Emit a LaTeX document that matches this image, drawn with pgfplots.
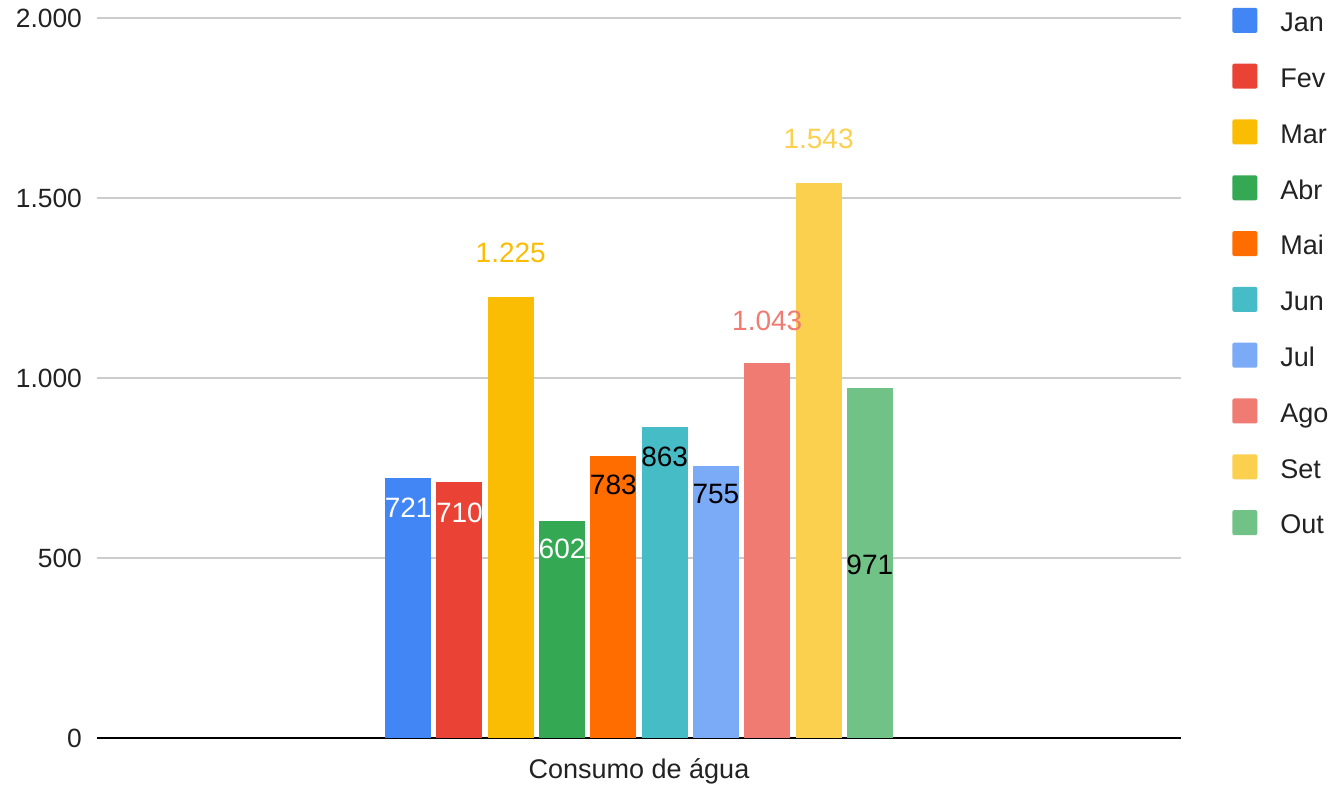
\documentclass[border=0pt]{standalone}
\usepackage{fontspec}
\setmainfont{Liberation Sans}
\usepackage{pgfplots}
\pgfplotsset{compat=1.18}

\definecolor{cJan}{HTML}{4285F4}
\definecolor{cFev}{HTML}{EA4335}
\definecolor{cMar}{HTML}{FBBC04}
\definecolor{cAbr}{HTML}{34A853}
\definecolor{cMai}{HTML}{FF6D01}
\definecolor{cJun}{HTML}{46BDC6}
\definecolor{cJul}{HTML}{7BAAF7}
\definecolor{cAgo}{HTML}{F07B72}
\definecolor{cSet}{HTML}{FCD04F}
\definecolor{cOut}{HTML}{71C287}
\definecolor{txt}{HTML}{222222}

\newcommand{\lblfont}{\fontsize{14}{16}\selectfont}

\begin{document}
\begin{tikzpicture}
\useasboundingbox (-48.5pt,-23.5pt) rectangle (618pt,369pt);
\begin{axis}[
    at={(0,0)}, anchor=south west,
    scale only axis,
    width=542pt, height=360pt,
    ybar=2.65pt, bar width=23pt,
    xmin=-1, xmax=1,
    ymin=0, ymax=2000,
    ytick={0,500,1000,1500,2000},
    xtick=\empty,
    axis x line*=bottom,
    axis y line*=left,
    x axis line style={black, line width=1pt},
    y axis line style={draw=none},
    major tick length=0pt,
    ymajorgrids,
    grid style={gray!40, line width=0.65pt},
    /pgf/number format/1000 sep={.},
    /pgf/number format/assume math mode=true,
    yticklabel style={font=\fontsize{13.2}{15}\selectfont, text=txt, xshift=-4pt},
    xlabel={Consumo de água},
    xlabel style={font=\fontsize{13.5}{15}\selectfont, text=txt, at={(axis description cs:0.5,-0.0458)}, anchor=center},
    legend style={at={(1.047,1.0146)}, anchor=north west, draw=none, inner sep=0pt,
        row sep=13pt, column sep=0pt,
        nodes={inner sep=0pt, text height=9.7pt, text depth=3pt, font=\fontsize{13.5}{15}\selectfont, text=txt}},
    legend cell align=left,
    legend image code/.code={
        \fill[#1, rounded corners=1pt] (0pt,-3.95pt) rectangle (12.5pt,8.55pt);
        \path[draw=none, fill=none] (0pt,0pt) rectangle (24pt,0.1pt);},
    every node near coord/.append style={font=\lblfont, anchor=center},
]
\addplot[fill=cJan, draw=none, nodes near coords={721},
    every node near coord/.append style={yshift=-14.5pt, text=white}] coordinates {(0,721)};
\addplot[fill=cFev, draw=none, nodes near coords={710},
    every node near coord/.append style={yshift=-15pt, text=white}] coordinates {(0,710)};
\addplot[fill=cMar, draw=none, nodes near coords={1.225},
    every node near coord/.append style={yshift=22pt, text=cMar}] coordinates {(0,1225)};
\addplot[fill=cAbr, draw=none, nodes near coords={602},
    every node near coord/.append style={yshift=-14pt, text=white}] coordinates {(0,602)};
\addplot[fill=cMai, draw=none, nodes near coords={783},
    every node near coord/.append style={yshift=-14.5pt, text=black}] coordinates {(0,783)};
\addplot[fill=cJun, draw=none, nodes near coords={863},
    every node near coord/.append style={yshift=-15pt, text=black}] coordinates {(0,863)};
\addplot[fill=cJul, draw=none, nodes near coords={755},
    every node near coord/.append style={yshift=-14pt, text=black}] coordinates {(0,755)};
\addplot[fill=cAgo, draw=none, nodes near coords={1.043},
    every node near coord/.append style={yshift=21pt, text=cAgo}] coordinates {(0,1043)};
\addplot[fill=cSet, draw=none, nodes near coords={1.543},
    every node near coord/.append style={yshift=22pt, text=cSet}] coordinates {(0,1543)};
\addplot[fill=cOut, draw=none, nodes near coords={971},
    every node near coord/.append style={yshift=-88pt, text=black}] coordinates {(0,971)};
\legend{Jan,Fev,Mar,Abr,Mai,Jun,Jul,Ago,Set,Out}
\end{axis}
\end{tikzpicture}
\end{document}
